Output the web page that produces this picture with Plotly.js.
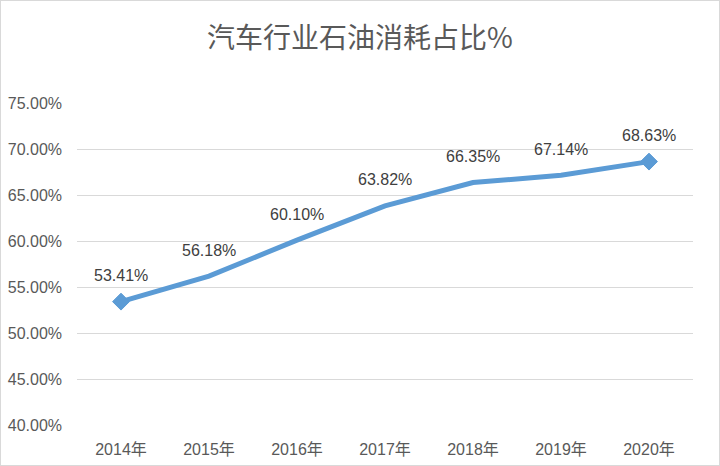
<!DOCTYPE html>
<html>
<head>
<meta charset="utf-8">
<script src="https://cdn.plot.ly/plotly-3.0.1.min.js"></script>
<style>
  html, body { margin:0; padding:0; background:#fff; }
  #wrap { width:720px; height:466px; box-sizing:border-box; border:1px solid #d9d9d9; }
  #chart { width:718px; height:464px; }
</style>
</head>
<body>
<div id="wrap"><div id="chart"></div></div>
<script>
// ── data ──
const years  = ['2014年','2015年','2016年','2017年','2018年','2019年','2020年'];
const share  = [0.5341, 0.5618, 0.6010, 0.6382, 0.6635, 0.6714, 0.6863];
const yTicks = [0.40, 0.45, 0.50, 0.55, 0.60, 0.65, 0.70, 0.75];

const FONT = "'Liberation Sans', 'Noto Sans CJK SC', sans-serif";
const BLUE = '#5b9bd5';

const line = {
  x: years, y: share,
  type:'scatter', mode:'lines',
  line:{color:BLUE, width:5},
  hoverinfo:'skip', showlegend:false, cliponaxis:false
};

// diamond only on the first and last point
const last = years.length - 1;
const ends = {
  x: [years[0], years[last]], y: [share[0], share[last]],
  type:'scatter', mode:'markers',
  marker:{symbol:'diamond', size:13, color:BLUE, opacity:1, line:{width:1, color:BLUE}},
  hoverinfo:'skip', showlegend:false, cliponaxis:false
};

// value labels above each point
const labels = years.map((yr,i) => ({
  x: yr, y: share[i], xref:'x', yref:'y',
  text: (share[i]*100).toFixed(2)+'%',
  showarrow:false, yshift:26,
  font:{family:FONT, size:16, color:'#404040'}
}));

Plotly.newPlot('chart', [line, ends], {
  width:718, height:464,
  margin:{l:76, r:26, t:102, b:40},
  paper_bgcolor:'#fff', plot_bgcolor:'#fff',
  title:{text:'汽车行业石油消耗占比%', x:0.5, xanchor:'center', y:0.92, yanchor:'middle',
    font:{family:"'Noto Sans CJK SC', sans-serif", size:28, color:'#595959'}},
  annotations: labels,
  xaxis:{type:'category', range:[-0.5, 6.5], showgrid:false, zeroline:false,
    showline:false, ticks:'', ticklabelstandoff:13,
    tickfont:{family:FONT, size:16, color:'#595959'}},
  yaxis:{range:[0.40, 0.75], tickvals:yTicks, tickformat:'.2%', showgrid:true,
    gridcolor:'#d9d9d9', gridwidth:1, zeroline:false, showline:false, ticks:'',
    ticklabelstandoff:14, tickfont:{family:FONT, size:16, color:'#595959'}}
}, {displayModeBar:false, staticPlot:true});
</script>
</body>
</html>
